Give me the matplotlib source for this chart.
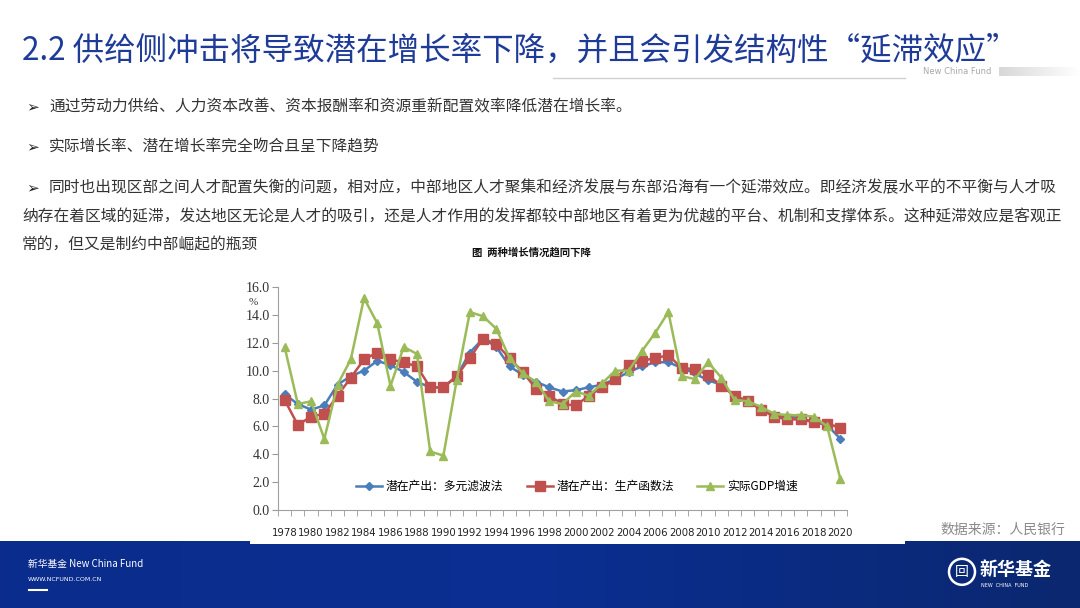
import matplotlib

matplotlib.use("Agg")
import matplotlib.pyplot as plt
import numpy as np
from matplotlib.colors import LinearSegmentedColormap
from matplotlib.patches import Rectangle, Ellipse

plt.rcParams["font.family"] = ["Noto Sans CJK SC", "DejaVu Sans"]

years = list(range(1978, 2021))
multi_filter = [8.3, 7.6, 7.2, 7.5, 9.0, 9.6, 10.0, 10.7, 10.4, 9.9, 9.2, 8.8, 8.8, 9.6, 11.3,
                12.3, 11.7, 10.3, 9.7, 9.2, 8.8, 8.5, 8.6, 8.8, 9.0, 9.4, 9.9, 10.3, 10.6, 10.6,
                10.2, 9.8, 9.3, 9.0, 8.2, 7.8, 7.3, 6.8, 6.7, 6.6, 6.3, 6.1, 5.1]
prod_func = [7.9, 6.1, 6.7, 6.9, 8.2, 9.5, 10.8, 11.3, 10.8, 10.6, 10.3, 8.8, 8.8, 9.6, 10.9,
             12.3, 11.9, 10.9, 9.9, 8.7, 8.2, 7.6, 7.5, 8.2, 8.8, 9.4, 10.4, 10.7, 10.9, 11.1,
             10.2, 10.1, 9.7, 8.9, 8.2, 7.8, 7.2, 6.7, 6.5, 6.5, 6.3, 6.2, 5.9]
real_gdp = [11.7, 7.6, 7.8, 5.1, 9.0, 10.8, 15.2, 13.4, 8.9, 11.7, 11.2, 4.2, 3.9, 9.3, 14.2,
            13.9, 13.0, 10.9, 9.8, 9.2, 7.8, 7.6, 8.5, 8.2, 9.1, 10.0, 10.0, 11.4, 12.7, 14.2,
            9.6, 9.4, 10.6, 9.5, 7.9, 7.8, 7.4, 6.9, 6.8, 6.8, 6.7, 6.0, 2.2]
series_names = ["潜在产出：多元滤波法", "潜在产出：生产函数法", "实际GDP增速"]
y_ticks = [0, 2, 4, 6, 8, 10, 12, 14, 16]

W, H = 1080, 608
fig = plt.figure(figsize=(W / 100, H / 100), dpi=100)
fig.patch.set_facecolor("white")


def fx(px):
    return px / W


def fy(py):
    return 1 - py / H


# ---- title block ----
title_blue = "#1f3b98"
fig.text(fx(22), fy(51), "2.2 供给侧冲击将导致潜在增长率下降，并且会引发结构性“延滞效应”",
         fontsize=22.7, color=title_blue, va="center", ha="left")
fig.add_artist(plt.Line2D([fx(553), fx(905)], [fy(78), fy(78)], color="#d0d0d0", lw=1))
fig.text(fx(923), fy(72), "New China Fund", fontsize=6, color="#a8a8a8", va="center",
         family=["DejaVu Sans"])
grad_ax = fig.add_axes([fx(999), fy(76), fx(81), 9 / H])
grad_ax.imshow(np.linspace(0, 1, 100)[None, :],
               cmap=LinearSegmentedColormap.from_list("bar", ["#d8d8d8", "#ffffff"]),
               aspect="auto", extent=(0, 1, 0, 1))
grad_ax.axis("off")

# ---- bullet text ----
txt_color = "#333333"
bullet_lines = [
    (107, True, "通过劳动力供给、人力资本改善、资本报酬率和资源重新配置效率降低潜在增长率。"),
    (147, True, "实际增长率、潜在增长率完全吻合且呈下降趋势"),
    (188, True, "同时也出现区部之间人才配置失衡的问题，相对应，中部地区人才聚集和经济发展与东部沿海有一个延滞效应。即经济发展水平的不平衡与人才吸"),
    (217, False, "纳存在着区域的延滞，发达地区无论是人才的吸引，还是人才作用的发挥都较中部地区有着更为优越的平台、机制和支撑体系。这种延滞效应是客观正"),
    (245, False, "常的，但又是制约中部崛起的瓶颈"),
]
for y, has_bullet, line in bullet_lines:
    if has_bullet:
        fig.text(fx(26), fy(y), "➢", fontsize=11, color="#222222", va="center",
                 family=["DejaVu Sans"])
        fig.text(fx(49), fy(y), line, fontsize=11.3, color=txt_color, va="center")
    else:
        fig.text(fx(22), fy(y), line, fontsize=11.3, color=txt_color, va="center")

fig.text(fx(531), fy(252), "图  两种增长情况趋同下降", fontsize=7.5, fontweight="bold",
         color="#111111", ha="center", va="center")

# ---- chart ----
ax = fig.add_axes([fx(278), fy(510), fx(847 - 278), (510 - 287) / H])
x = np.arange(len(years))
ax.plot(x, multi_filter, color="#4a7ebb", lw=1.8, marker="D", ms=4.5,
        label=series_names[0], zorder=3)
ax.plot(x, prod_func, color="#c0504d", lw=1.8, marker="s", ms=6.5,
        label=series_names[1], zorder=4)
ax.plot(x, real_gdp, color="#9bbb59", lw=1.8, marker="^", ms=6,
        label=series_names[2], zorder=5)

ax.set_xlim(-0.5, len(years) - 0.5)
ax.set_ylim(0, 16)
ax.set_yticks(y_ticks)
ax.set_yticklabels([f"{v:.1f}" for v in y_ticks], family=["Liberation Serif"],
                   fontsize=10, color="#333333")
ax.set_xticks(x[::2])
ax.set_xticklabels([str(v) for v in years[::2]], family=["Liberation Sans Narrow", "DejaVu Sans"],
                   fontsize=7.3, color="#222222")
ax.set_xticks(np.arange(-0.5, len(years)), minor=True)
ax.tick_params(axis="x", which="major", length=0, pad=13)
ax.tick_params(axis="x", which="minor", length=4, direction="out", color="#999999")
ax.tick_params(axis="y", length=4, direction="out", color="#999999", pad=2)
for s in ["top", "right"]:
    ax.spines[s].set_visible(False)
for s in ["left", "bottom"]:
    ax.spines[s].set_color("#a0a0a0")
ax.text(-0.035, 0.93, "%", transform=ax.transAxes, fontsize=8, ha="right", va="center",
        family=["Liberation Serif"], color="#333333")
ax.legend(loc="lower center", bbox_to_anchor=(0.525, 0.03), ncol=3, frameon=False,
          fontsize=8.5, handlelength=2.2, columnspacing=2.0, handletextpad=0.3)

fig.text(fx(940), fy(530), "数据来源：人民银行", fontsize=10, color="#8a8a8a", va="center")

# ---- footer band ----
foot_h = 67
foot_ax = fig.add_axes([0, 0, 1, foot_h / H])
grad = np.linspace(0, 1, 256)[None, :]
foot_ax.imshow(grad, cmap=LinearSegmentedColormap.from_list(
    "band", ["#0b2c8c", "#0a2f92", "#0a276f"]), aspect="auto", extent=(0, 1, 0, 1))
foot_ax.set_xlim(0, 1)
foot_ax.set_ylim(0, 1)
foot_ax.axis("off")
foot_ax.add_patch(Rectangle((250 / W, 0.955), (905 - 250) / W, 0.06, color="white", lw=0))
foot_ax.text(28 / W, 0.65, "新华基金 New China Fund", fontsize=7, color="white",
             style="italic", va="center")
foot_ax.text(28 / W, 0.42, "WWW.NCFUND.COM.CN", fontsize=4.5, color="white", va="center",
             family=["DejaVu Sans"])
foot_ax.plot([29 / W, 47 / W], [0.27, 0.27], color="white", lw=1.5)
foot_ax.add_patch(Ellipse((962 / W, 0.54), 26 / W, 26 / foot_h, fill=False,
                          ec="white", lw=1.8))
foot_ax.text(962 / W, 0.54, "回", fontsize=10, color="white", ha="center", va="center")
foot_ax.text(980 / W, 0.58, "新华基金", fontsize=13, color="white", fontweight="bold",
             va="center")
foot_ax.text(981 / W, 0.34, "NEW  CHINA  FUND", fontsize=3.5, color="white", va="center",
             family=["DejaVu Sans"])

fig.savefig("out.png", dpi=100)
